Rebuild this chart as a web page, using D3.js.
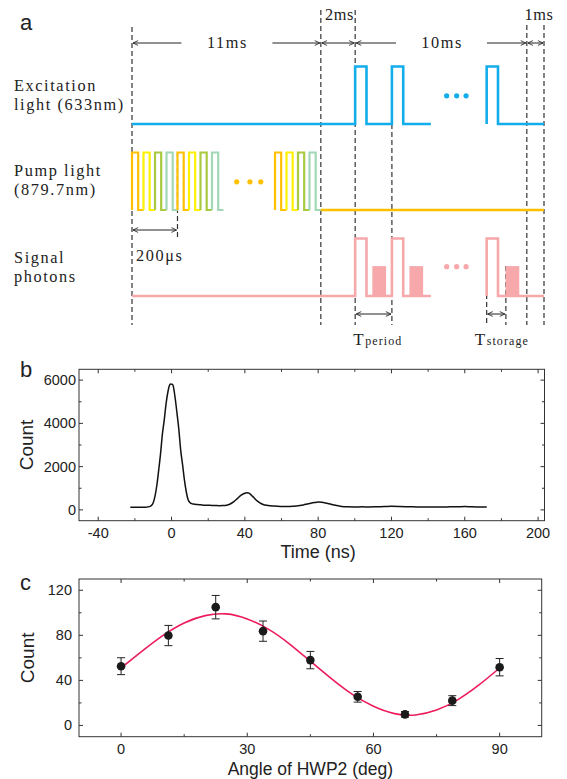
<!DOCTYPE html>
<html><head><meta charset="utf-8">
<script src="https://cdn.jsdelivr.net/npm/d3@7"></script>
<style>
body { margin: 0; background: #fff; }
svg { display: block; }
</style></head><body>
<svg id="fig" width="567" height="779"></svg>
<script>
// ---------- panel a : timing sequence (schematic, in ms along the cycle) ----------
const phases = [
  { label: "11ms", start: 0, end: 11 },
  { label: "2ms", start: 11, end: 13 },
  { label: "10ms", start: 13, end: 23 },
  { label: "1ms", start: 23, end: 24 }
];
const excitationRuns = [
  { from: 0, pulses: [13, 15.14], to: 17.41 },
  { from: 20.66, pulses: [20.66], to: 24 }
];
const pulseWidth = 0.66;
const storedStarts = [14.0, 16.16, 21.76];
const storedWidth = 0.8;
const pumpGroups = [0, 2.65, 8.33];
const pumpColors = ["#FFC000", "#FFF100", "#A8C940", "#A2D8B6"];
const pumpPeriod = 0.67;
const pumpHigh = 0.36;
const dotsExc = [18.33, 18.91, 19.46];
const dotsPump = [6.1, 6.87, 7.5];
const guides = [
  { t: 0, kind: "start" }, { t: 11, kind: "phase" }, { t: 13, kind: "phase" },
  { t: 23, kind: "end" }, { t: 24, kind: "end" }, { t: 15.14, kind: "period" },
  { t: 2.65, kind: "pump" }, { t: 20.66, kind: "storeA" }, { t: 21.78, kind: "storeB" }
];
const spans = [
  { t0: 0, t1: 2.65, label: "200μs", sub: "" },
  { t0: 13, t1: 15.14, label: "T", sub: "period" },
  { t0: 20.66, t1: 21.78, label: "T", sub: "storage" }
];
const rowLabels = [
  ["Excitation", "light (633nm)"],
  ["Pump light", "(879.7nm)"],
  ["Signal", "photons"]
];

// ---------- panel b : time histogram ----------
const timeNs = [-22.5, -20, -18, -16, -14, -12, -11, -10, -9, -8, -7, -6, -5, -4, -3, -2, -1, -0.5, 0, 0.5,
  1, 1.5, 2, 3, 4, 5, 6, 7, 8, 9, 10, 11, 12, 14, 16, 18, 20, 22, 24, 26,
  28, 30, 32, 34, 36, 38, 40, 41, 42, 43, 44, 45, 46, 48, 50, 52, 54, 56, 58, 60,
  62, 64, 66, 68, 70, 72, 74, 76, 78, 80, 82, 84, 86, 88, 90, 92, 94, 96, 100, 104,
  108, 112, 116, 120, 124, 128, 132, 136, 140, 144, 148, 152, 156, 160, 164, 168, 172];
const countsB = [120, 118, 122, 120, 125, 150, 200, 330, 650, 1150, 1850, 2600, 3500, 4150, 4900, 5450, 5780, 5820, 5810, 5800,
  5700, 5450, 5150, 4450, 3700, 2750, 2100, 1400, 850, 480, 340, 290, 270, 250, 235, 220, 215, 205, 200, 195,
  200, 215, 270, 380, 530, 680, 770, 790, 780, 730, 640, 560, 470, 340, 250, 210, 190, 175, 165, 160,
  155, 160, 165, 180, 200, 230, 270, 310, 340, 360, 350, 320, 280, 240, 200, 170, 150, 140, 135, 140,
  135, 145, 155, 165, 160, 150, 140, 135, 130, 135, 130, 140, 145, 155, 140, 135, 130];
const xTicksB = [-40, 0, 40, 80, 120, 160, 200];
const yTicksB = [0, 2000, 4000, 6000];

// ---------- panel c : angle scan ----------
const angles = [0, 11.25, 22.5, 33.75, 45, 56.25, 67.5, 78.75, 90];
const countsC = [52.6, 79.8, 105, 83.7, 58, 25.4, 9.8, 22, 51.7];
const errorsC = [7.5, 9, 10.4, 9, 7.7, 4.7, 2.5, 4.4, 7.7];
const fitAngles = [0, 5, 10, 15, 20, 25, 30, 35, 40, 45, 50, 55, 60, 65, 70, 75, 80, 85, 90];
const fitCounts = [51, 66, 80, 91, 97.5, 99, 94.5, 85.5, 72.5, 57, 41.5, 27.5, 17, 10.5, 9.3, 13.6, 22.7, 35.7, 51];
const xTicksC = [0, 30, 60, 90];
const yTicksC = [0, 40, 80, 120];

const svg = d3.select("#fig");
const ink = "#222";
const serif = "'Liberation Serif', 'Times New Roman', serif";
const sans = "'Liberation Sans', Arial, sans-serif";

// ================= panel a =================
const a = svg.append("g");
const tx = d3.scaleLinear().domain([0, 24]).range([132, 544]);
const rows = { exc: 124, pump: 210, sig: 296 };
const amp = 57.5;
const lv = (row, level) => rows[row] - level * amp;

svg.append("defs").html(`
  <marker id="ah" viewBox="0 0 10 10" refX="9.5" refY="5" markerWidth="6" markerHeight="6"
    markerUnits="userSpaceOnUse" orient="auto-start-reverse">
    <path d="M1,1 L9.5,5 L1,9" fill="none" stroke="${ink}" stroke-width="1.4"/>
  </marker>`);

// dashed guide lines
const guideSpan = {
  start: [27, 325], phase: [10, 325], end: [25, 325], period: [124, 325],
  pump: [152, 238], storeA: [238, 325], storeB: [266, 325]
};
a.selectAll("line.guide").data(guides).join("line")
  .attr("class", "guide")
  .attr("x1", d => tx(d.t)).attr("x2", d => tx(d.t))
  .attr("y1", d => guideSpan[d.kind][0]).attr("y2", d => guideSpan[d.kind][1])
  .attr("stroke", "#333").attr("stroke-width", 1.2).attr("stroke-dasharray", "5,3");

// phase arrows + labels
phases.forEach(p => {
  const x0 = tx(p.start), x1 = tx(p.end), xm = (x0 + x1) / 2;
  const long = p.end - p.start > 3;
  if (long) {
    a.append("line").attr("x1", xm - 45).attr("x2", x0 + 1).attr("y1", 43).attr("y2", 43)
      .attr("stroke", ink).attr("stroke-width", 1).attr("marker-end", "url(#ah)");
    a.append("line").attr("x1", xm + 46).attr("x2", x1 - 1).attr("y1", 43).attr("y2", 43)
      .attr("stroke", ink).attr("stroke-width", 1).attr("marker-end", "url(#ah)");
    a.append("text").attr("x", xm + 1).attr("y", 48).attr("text-anchor", "middle")
      .text(p.label);
  } else {
    a.append("line").attr("x1", x0 + 1).attr("x2", x1 - 1).attr("y1", 43).attr("y2", 43)
      .attr("stroke", ink).attr("stroke-width", 1)
      .attr("marker-start", "url(#ah)").attr("marker-end", "url(#ah)");
    a.append("text").attr("x", xm + (p.end === 24 ? 3.5 : 1.5)).attr("y", 20).attr("text-anchor", "middle")
      .attr("letter-spacing", 0.6).text(p.label);
  }
});

// excitation (blue) and signal (pink) traces
function pulseTrace(row, run) {
  const pts = [];
  if (run.from < run.pulses[0]) pts.push([run.from, 0]);
  run.pulses.forEach(s => {
    pts.push([s, 0], [s, 1], [s + pulseWidth, 1], [s + pulseWidth, 0]);
  });
  pts.push([run.to, 0]);
  return d3.line().x(d => tx(d[0])).y(d => lv(row, d[1]))(pts);
}
excitationRuns.forEach(run => {
  a.append("path").attr("d", pulseTrace("exc", run)).attr("fill", "none")
    .attr("stroke", "#12ADEA").attr("stroke-width", 2.6);
  a.append("path").attr("d", pulseTrace("sig", run)).attr("fill", "none")
    .attr("stroke", "#F6A8AA").attr("stroke-width", 2.6);
});
a.selectAll("rect.stored").data(storedStarts).join("rect")
  .attr("class", "stored")
  .attr("x", d => tx(d)).attr("width", tx(storedWidth) - tx(0))
  .attr("y", lv("sig", 0.52)).attr("height", 0.52 * amp)
  .attr("fill", "#F6A8AA");

// pump (multi-coloured pulse trains)
pumpGroups.forEach(g => {
  pumpColors.forEach((c, i) => {
    const s = g + i * pumpPeriod;
    const pts = [[s, 0], [s, 1], [s + pumpHigh, 1], [s + pumpHigh, 0], [s + pumpPeriod, 0]];
    a.append("path").attr("d", d3.line().x(d => tx(d[0])).y(d => lv("pump", d[1]))(pts))
      .attr("fill", "none").attr("stroke", c).attr("stroke-width", 2.2);
  });
});
a.append("line").attr("x1", tx(11)).attr("x2", tx(24))
  .attr("y1", lv("pump", 0)).attr("y2", lv("pump", 0))
  .attr("stroke", "#FFC000").attr("stroke-width", 2.6);

// ellipsis dots
a.selectAll("circle.de").data(dotsExc).join("circle").attr("class", "de")
  .attr("cx", d => tx(d)).attr("cy", lv("exc", 0.49)).attr("r", 2.6).attr("fill", "#12ADEA");
a.selectAll("circle.ds").data(dotsExc).join("circle").attr("class", "ds")
  .attr("cx", d => tx(d)).attr("cy", lv("sig", 0.51)).attr("r", 2.6).attr("fill", "#F6A8AA");
a.selectAll("circle.dp").data(dotsPump).join("circle").attr("class", "dp")
  .attr("cx", d => tx(d)).attr("cy", lv("pump", 0.49)).attr("r", 2.6).attr("fill", "#FFC000");

// measurement spans (200us, Tperiod, Tstorage)
spans.forEach((s, i) => {
  const y = i === 0 ? 230 : 314;
  a.append("line").attr("x1", tx(s.t0) + 1).attr("x2", tx(s.t1) - 1).attr("y1", y).attr("y2", y)
    .attr("stroke", ink).attr("stroke-width", 1)
    .attr("marker-start", "url(#ah)").attr("marker-end", "url(#ah)");
  if (i === 0) {
    a.append("text").attr("x", tx(s.t0) + 4).attr("y", 261).text(s.label);
  } else {
    const t = a.append("text").attr("x", tx(s.t0) - (i === 2 ? 12 : 2)).attr("y", 345);
    t.append("tspan").attr("font-size", 17).text(s.label);
    t.append("tspan").attr("font-size", 12).attr("letter-spacing", 1.1).text(s.sub);
  }
});

// row labels
rowLabels.forEach((lines, i) => {
  const base = [91, 175.5, 262.5][i];
  lines.forEach((l, j) => {
    a.append("text").attr("x", 14).attr("y", base + j * 19.3).text(l);
  });
});
a.selectAll("text").attr("font-family", serif).attr("font-size", function () {
  return this.getAttribute("font-size") || 16.3;
}).attr("letter-spacing", function () {
  return this.getAttribute("letter-spacing") || 1.6;
}).attr("fill", ink);

// panel letters
[["a", 30], ["b", 377], ["c", 590]].forEach(([k, y]) => {
  svg.append("text").attr("x", 20).attr("y", y).attr("font-family", sans)
    .attr("font-size", 22).attr("fill", ink).text(k);
});

// ================= helper for framed plots =================
function framed(x, y, xMajor, xMinor, yMajor, yMinor, padX, padY) {
  const g = svg.append("g");
  const [x0, x1] = x.range(), [y0, y1] = y.range();
  g.append("rect").attr("x", x0).attr("y", y1).attr("width", x1 - x0).attr("height", y0 - y1)
    .attr("fill", "none").attr("stroke", "#333").attr("stroke-width", 1);
  const tick = (vals, len, horizontal) => vals.forEach(v => {
    if (horizontal) {
      const px = x(v);
      g.append("line").attr("x1", px).attr("x2", px).attr("y1", y0).attr("y2", y0 - len).attr("stroke", "#333");
      g.append("line").attr("x1", px).attr("x2", px).attr("y1", y1).attr("y2", y1 + len).attr("stroke", "#333");
    } else {
      const py = y(v);
      g.append("line").attr("x1", x0).attr("x2", x0 + len).attr("y1", py).attr("y2", py).attr("stroke", "#333");
      g.append("line").attr("x1", x1).attr("x2", x1 - len).attr("y1", py).attr("y2", py).attr("stroke", "#333");
    }
  });
  tick(xMajor, 4, true); tick(xMinor, 2.5, true);
  tick(yMajor, 4, false); tick(yMinor, 2.5, false);
  g.selectAll("text.xl").data(xMajor).join("text").attr("class", "xl")
    .attr("x", d => x(d)).attr("y", y0 + padX).attr("text-anchor", "middle")
    .attr("font-family", sans).attr("font-size", 14.5).attr("fill", ink).text(d => d);
  g.selectAll("text.yl").data(yMajor).join("text").attr("class", "yl")
    .attr("x", x0 - padY).attr("y", d => y(d) + 5).attr("text-anchor", "end")
    .attr("font-family", sans).attr("font-size", 14.5).attr("fill", ink).text(d => d);
  return g;
}

// ================= panel b =================
const xb = d3.scaleLinear().domain([-50.5, 203.5]).range([79, 544.5]);
const yb = d3.scaleLinear().domain([-500, 6500]).range([520.7, 369.3]);
const gb = framed(xb, yb, xTicksB, d3.range(-20, 201, 40), yTicksB, [1000, 3000, 5000], 17.5, 3);
gb.append("path")
  .datum(timeNs.map((t, i) => [t, countsB[i]]))
  .attr("d", d3.line().x(d => xb(d[0])).y(d => yb(d[1])).curve(d3.curveMonotoneX))
  .attr("fill", "none").attr("stroke", "#111").attr("stroke-width", 1.5);
svg.append("text").attr("x", xb(80)).attr("y", 558).attr("text-anchor", "middle")
  .attr("font-family", sans).attr("font-size", 18).attr("fill", ink).text("Time (ns)");
svg.append("text").attr("transform", `translate(33,${yb(3000)}) rotate(-90)`)
  .attr("text-anchor", "middle").attr("font-family", sans).attr("font-size", 19)
  .attr("fill", ink).text("Count");

// ================= panel c =================
const xc = d3.scaleLinear().domain([-10, 100]).range([79, 541.7]);
const yc = d3.scaleLinear().domain([-10, 130]).range([736.7, 579]);
const gc = framed(xc, yc, xTicksC, [15, 45, 75], yTicksC, [20, 60, 100], 17.5, 7);
gc.append("path")
  .datum(fitAngles.map((t, i) => [t, fitCounts[i]]))
  .attr("d", d3.line().x(d => xc(d[0])).y(d => yc(d[1])).curve(d3.curveNatural))
  .attr("fill", "none").attr("stroke", "#EC1C5C").attr("stroke-width", 1.6);
const pts = angles.map((t, i) => ({ t, v: countsC[i], e: errorsC[i] }));
gc.selectAll("path.err").data(pts).join("path").attr("class", "err")
  .attr("d", d => {
    const px = xc(d.t), top = yc(d.v + d.e), bot = yc(d.v - d.e);
    return `M${px - 4},${top}H${px + 4}M${px},${top}V${bot}M${px - 4},${bot}H${px + 4}`;
  })
  .attr("fill", "none").attr("stroke", "#222").attr("stroke-width", 1);
gc.selectAll("circle.pt").data(pts).join("circle").attr("class", "pt")
  .attr("cx", d => xc(d.t)).attr("cy", d => yc(d.v)).attr("r", 4.3).attr("fill", "#1a1a1a");
svg.append("text").attr("x", xc(45)).attr("y", 775).attr("text-anchor", "middle")
  .attr("font-family", sans).attr("font-size", 17.5).attr("fill", ink).text("Angle of HWP2 (deg)");
svg.append("text").attr("transform", `translate(34,${yc(60)}) rotate(-90)`)
  .attr("text-anchor", "middle").attr("font-family", sans).attr("font-size", 19)
  .attr("fill", ink).text("Count");
</script>
</body></html>
